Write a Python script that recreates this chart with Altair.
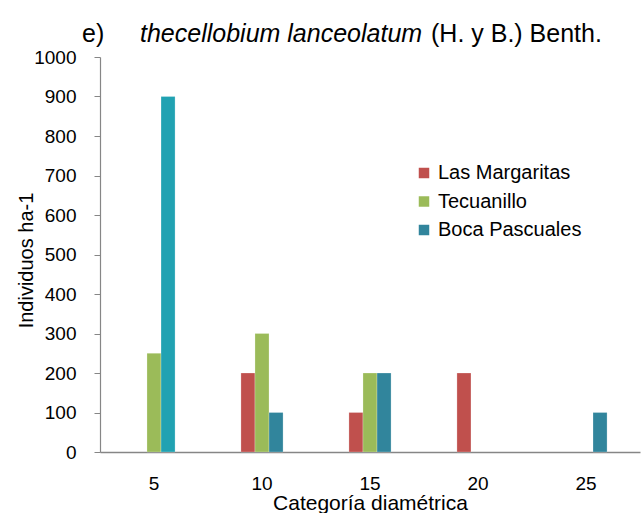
import altair as alt
import pandas as pd

# Diameter classes and individuals per hectare at each site
categorias = [5, 10, 15, 20, 25]
sitios = ["Las Margaritas", "Tecuanillo", "Boca Pascuales"]
las_margaritas = [0, 200, 100, 200, 0]
tecuanillo = [250, 300, 200, 0, 0]
boca_pascuales = [900, 100, 200, 0, 100]
colores = ["#c0504d", "#9bbb59", "#31859c"]

rows = []
for sitio, valores in zip(sitios, [las_margaritas, tecuanillo, boca_pascuales]):
    for cat, v in zip(categorias, valores):
        if v > 0:
            rows.append({"categoria": str(cat), "sitio": sitio, "individuos": v})
df = pd.DataFrame(rows)

FONT = "Liberation Sans"

bars = alt.Chart(df).mark_bar(stroke="white", strokeWidth=0.4, strokeOpacity=0.6).encode(
    x=alt.X(
        "categoria:N",
        sort=[str(c) for c in categorias],
        scale=alt.Scale(paddingInner=0.61, paddingOuter=0.305),
        axis=alt.Axis(
            title="Categoría diamétrica",
            labelAngle=0,
            ticks=False,
            labelPadding=22,
            labelFontSize=19,
            titleFontSize=21,
            titleFontWeight="normal",
            titleY=57,
            titleBaseline="alphabetic",
            domainColor="#868686",
            domainWidth=1.5,
        ),
    ),
    xOffset=alt.XOffset(
        "sitio:N",
        sort=sitios,
        scale=alt.Scale(domain=sitios, paddingInner=0, paddingOuter=0),
    ),
    y=alt.Y(
        "individuos:Q",
        scale=alt.Scale(domain=[0, 1000], nice=False),
        axis=alt.Axis(
            title="Individuos ha-1",
            values=list(range(0, 1001, 100)),
            format="d",
            grid=False,
            tickSize=6,
            labelPadding=18,
            labelFontSize=19,
            titleFontSize=20,
            titleFontWeight="normal",
            titleX=-68,
            titleY=203,
            titleAlign="center",
            titleBaseline="alphabetic",
            domainColor="#868686",
            tickColor="#868686",
            domainWidth=1.2,
        ),
    ),
    color=alt.when("datum.sitio === 'Boca Pascuales' && datum.categoria === '5'")
    .then(alt.value("#21a2b2"))
    .otherwise(
        alt.Color(
            "sitio:N",
            sort=sitios,
            scale=alt.Scale(domain=sitios, range=colores),
            legend=alt.Legend(
                title=None,
                orient="none",
                legendX=314,
                legendY=106,
                symbolType="square",
                symbolSize=110,
                symbolStrokeWidth=0,
                labelFontSize=20,
                labelOffset=4,
                rowPadding=8.5,
            ),
        )
    ),
)

tag = alt.Chart(pd.DataFrame({"t": ["e)"]})).mark_text(
    align="left", baseline="alphabetic", fontSize=25, font=FONT, color="black"
).encode(text="t:N", x=alt.value(-18), y=alt.value(-15))

especie = alt.Chart(pd.DataFrame({"t": ["thecellobium lanceolatum"]})).mark_text(
    align="left", baseline="alphabetic", fontSize=25, font=FONT, fontStyle="italic", color="black"
).encode(text="t:N", x=alt.value(40), y=alt.value(-15))

autor = alt.Chart(pd.DataFrame({"t": ["(H. y B.) Benth."]})).mark_text(
    align="left", baseline="alphabetic", fontSize=25, font=FONT, color="black"
).encode(text="t:N", x=alt.value(331), y=alt.value(-15))

chart = (
    alt.layer(bars, tag, especie, autor)
    .properties(
        width=540,
        height=395,
        padding={"left": 100, "top": 57, "right": 4, "bottom": 61},
        autosize=alt.AutoSizeParams(type="none"),
    )
    .configure(font=FONT)
    .configure_view(stroke=None)
    .configure_axis(labelColor="black", titleColor="black", labelFont=FONT, titleFont=FONT)
    .configure_legend(labelFont=FONT, labelColor="black")
)

chart.save("out.html", embed_options={"renderer": "svg", "actions": False})
